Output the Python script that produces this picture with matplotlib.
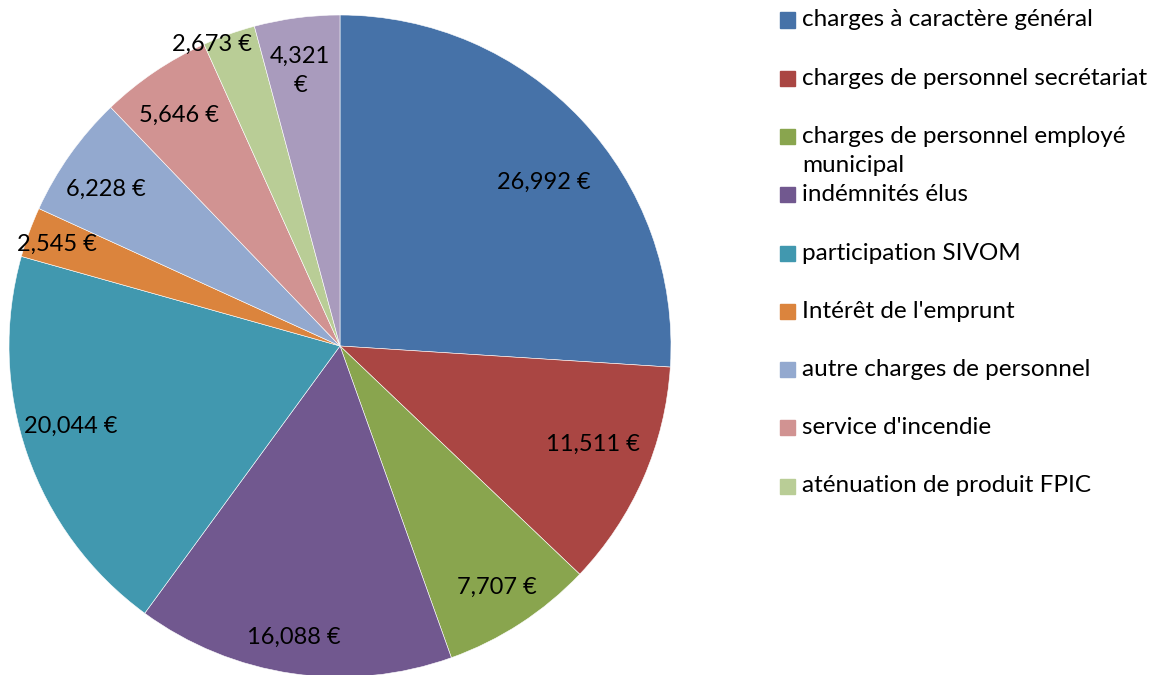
import matplotlib

matplotlib.use("Agg")
import matplotlib.pyplot as plt  # noqa: E402
import numpy as np  # noqa: E402
from matplotlib.patches import Rectangle  # noqa: E402

# data
categories = [
    "charges à caractère général",
    "charges de personnel secrétariat",
    "charges de personnel employé\nmunicipal",
    "indémnités élus",
    "participation SIVOM",
    "Intérêt de l'emprunt",
    "autre charges de personnel",
    "service d'incendie",
    "aténuation de produit FPIC",
    "autres",  # last entry is cut off from the legend in the original
]
values = [26992, 11511, 7707, 16088, 20044, 2545, 6228, 5646, 2673, 4321]
value_labels = [f"{v:,} €" for v in values]
value_labels[9] = "4,321\n€"

colors = [
    "#4672A8", "#AA4643", "#89A54E", "#71588F", "#4198AF",
    "#DB843D", "#93A9CF", "#D19392", "#B9CD96", "#A99BBD",
]
# label placement (fraction of radius, angle shift in degrees from slice middle)
label_radius = [0.79, 0.82, 0.87, 0.89, 0.85, 0.91, 0.85, 0.85, 0.99, 0.84]
label_shift = [-4.5, 2.3, -0.1, -0.7, -2.4, 0.4, 1.5, 0.9, 3.4, 0.7]
legend_count = 9

plt.rcParams["font.family"] = ["Lato", "DejaVu Sans"]

W, H = 1160, 675
fig = plt.figure(figsize=(W / 100, H / 100), dpi=100)

cx, cy, R = 340, 346, 331
ax = fig.add_axes([(cx - R) / W, (H - cy - R) / H, 2 * R / W, 2 * R / H])
ax.pie(
    values,
    colors=colors,
    startangle=90,
    counterclock=False,
    radius=1,
    wedgeprops={"edgecolor": "white", "linewidth": 0.4},
)
ax.set_xlim(-1, 1)
ax.set_ylim(-1, 1)
ax.axis("off")

total = float(sum(values))
start = 90.0
for v, txt, rr, sh in zip(values, value_labels, label_radius, label_shift):
    span = v / total * 360.0
    mid = np.deg2rad(start - span / 2 + sh)
    ax.text(rr * np.cos(mid), rr * np.sin(mid), txt, ha="center", va="center",
            fontsize=17, color="black", linespacing=1.5, clip_on=False)
    start -= span

# legend drawn by hand, to keep the original spacing
for i in range(legend_count):
    yc = 20 + 58.25 * i
    fig.patches.append(Rectangle((780 / W, 1 - (yc + 7.5) / H), 15 / W, 15 / H,
                                 transform=fig.transFigure, color=colors[i]))
    fig.text(802 / W, 1 - (yc - 10.5) / H, categories[i], ha="left", va="top",
             fontsize=17.5, color="black", linespacing=1.45)

fig.savefig("out.png", dpi=100)
